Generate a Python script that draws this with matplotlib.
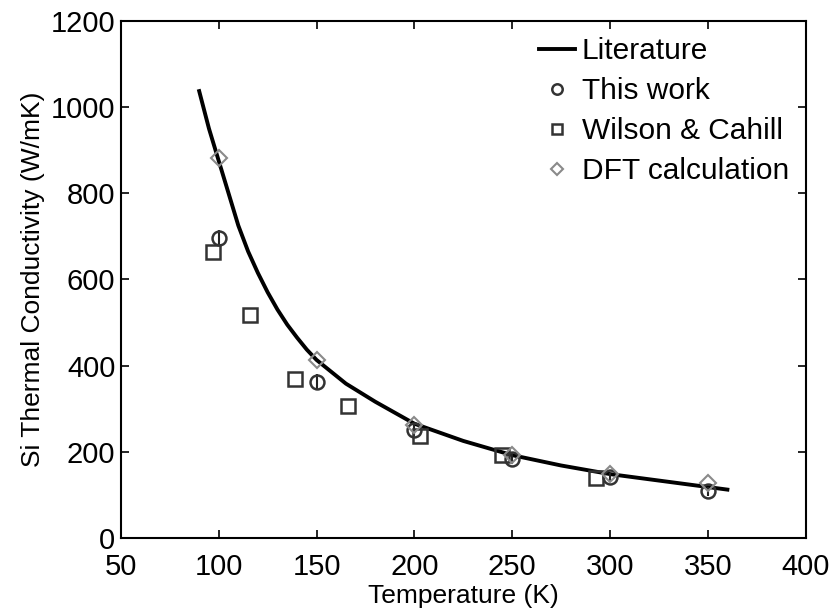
import numpy as np
import matplotlib.pyplot as plt

plt.rcParams['font.family'] = ['Liberation Sans', 'DejaVu Sans']

# Literature curve
lit_T = [90, 95, 100, 105, 110, 115, 120, 125, 130, 135, 140, 145, 150, 165, 180, 200, 225, 250, 275, 300, 325, 350, 360]
lit_k = [1037, 950, 875, 800, 725, 665, 615, 570, 530, 495, 465, 437, 413, 358, 316, 265, 225, 192, 168, 148, 133, 118, 112]

# This work
work_T = [100, 150, 200, 250, 300, 350]
work_k = [697, 362, 251, 184, 141, 108]
work_err = [18, 18, 14, 12, 10, 10]

# Wilson & Cahill
wc_T = [97, 116, 139, 166, 203, 245, 293]
wc_k = [663, 518, 368, 307, 236, 193, 138]

# DFT calculation
dft_T = [100, 150, 200, 250, 300, 350]
dft_k = [881, 413, 263, 192, 148, 127]

fig = plt.figure(figsize=(8.34, 6.14), dpi=100)
ax = fig.add_axes([0.145, 0.124, 0.821, 0.842])

ax.plot(lit_T, lit_k, color='black', lw=2.8, label='Literature', zorder=3)
ax.errorbar(work_T, work_k, yerr=work_err, fmt='none', ecolor='#222222', elinewidth=1.5, zorder=4)
ax.plot(work_T, work_k, 'o', mfc='none', mec='#333333', mew=1.8, ms=10, label='This work', zorder=4)
ax.plot(wc_T, wc_k, 's', mfc='none', mec='#333333', mew=1.8, ms=9.5, label='Wilson & Cahill', zorder=4)
ax.plot(dft_T, dft_k, 'D', mfc='none', mec='#8a8a8a', mew=1.5, ms=8.5, label='DFT calculation', zorder=5)

ax.set_xlim(50, 400)
ax.set_ylim(0, 1200)
ax.set_xticks(np.arange(50, 401, 50))
ax.set_yticks(np.arange(0, 1201, 200))
ax.tick_params(direction='in', length=6, width=1.2, top=True, right=True, labelsize=21)
ax.tick_params(axis='x', pad=11)
ax.tick_params(axis='y', pad=4)
for s in ax.spines.values():
    s.set_linewidth(1.5)

ax.set_xlabel('Temperature (K)', fontsize=19, labelpad=2)
ax.set_ylabel('Si Thermal Conductivity (W/mK)', fontsize=19, labelpad=4)

leg = ax.legend(loc='upper right', frameon=False, fontsize=21.5, handlelength=1.2,
                handletextpad=0.25, labelspacing=0.4, borderaxespad=0.15, markerscale=0.75)

fig.savefig('out.png', dpi=100)
